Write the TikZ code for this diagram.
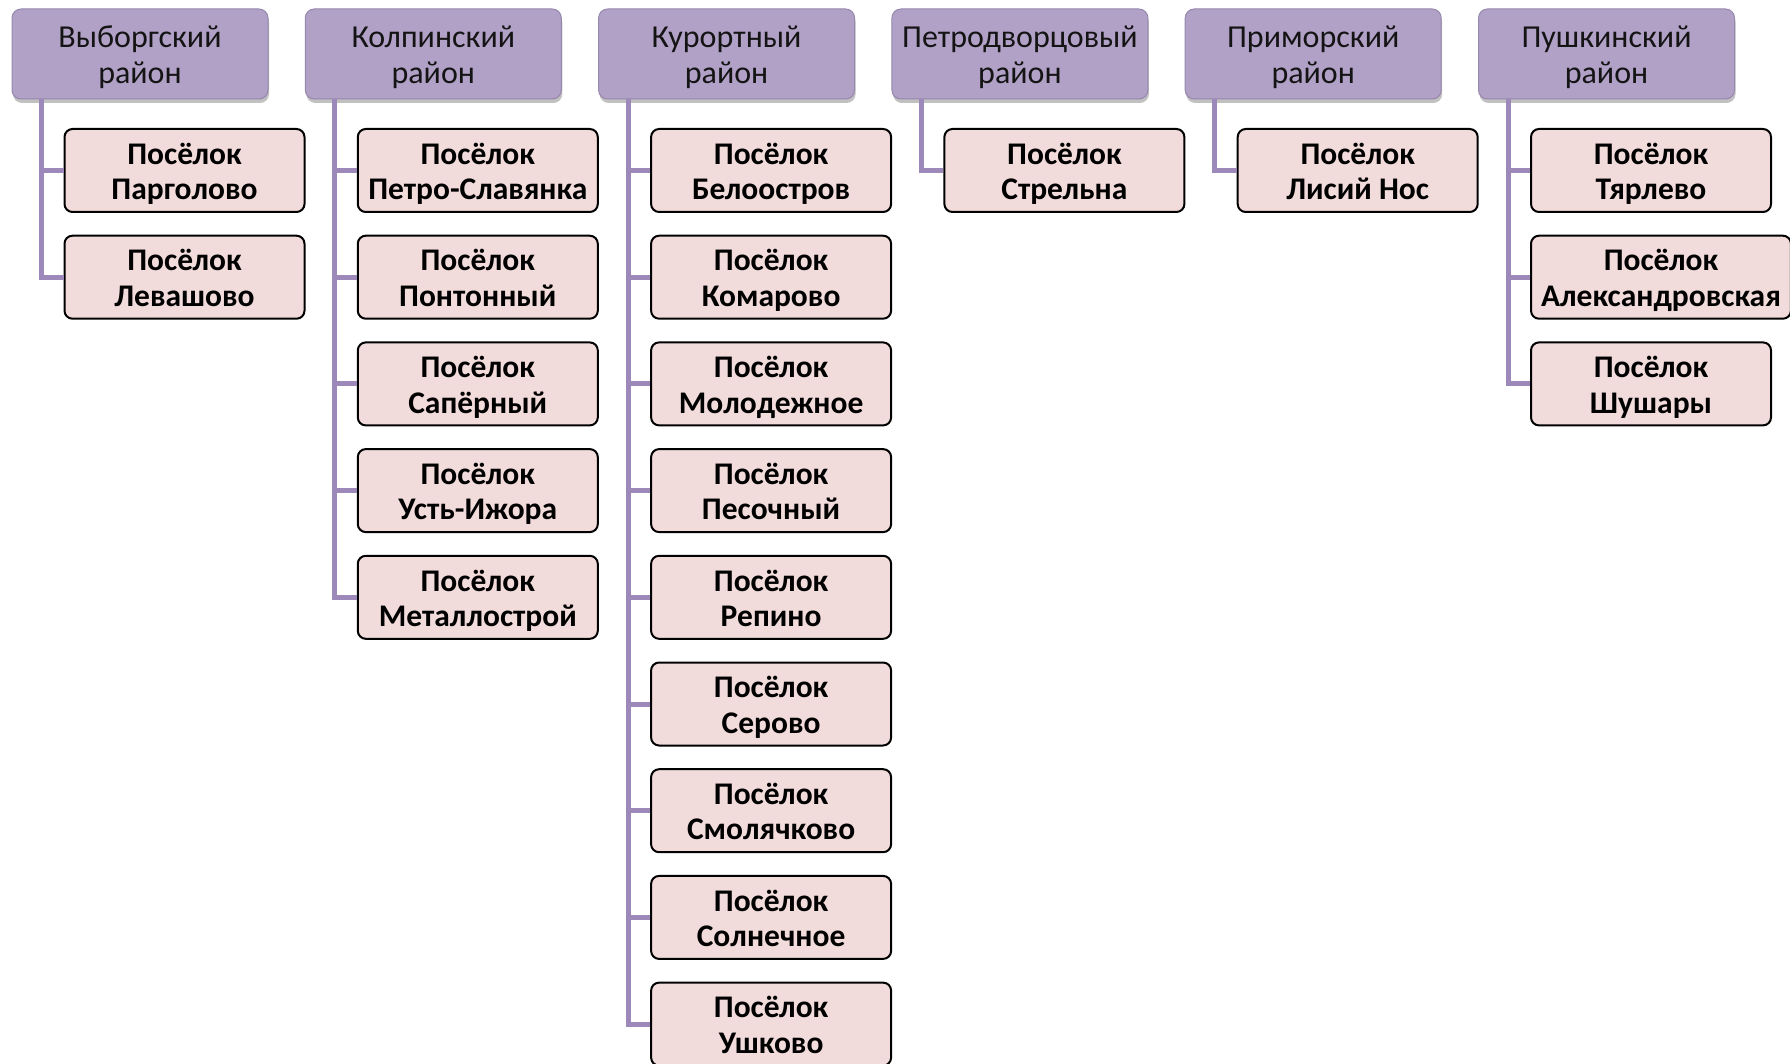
\documentclass[tikz,border=0pt]{standalone}
\usepackage{fontspec}
\setmainfont{Carlito}
\usetikzlibrary{positioning,shadows}

\definecolor{distfill}{RGB}{178,161,199}
\definecolor{distdraw}{RGB}{150,135,172}
\definecolor{branchcol}{RGB}{157,136,186}
\definecolor{villfill}{RGB}{242,220,219}

% two-line settlement label
\newcommand{\settl}[1]{\rule{0pt}{30pt}Посёлок\\#1\rule[-7pt]{0pt}{7pt}}

\begin{document}
\begin{tikzpicture}[
    x=1pt, y=1pt,
    district/.style={rectangle, rounded corners=9pt, draw=distdraw, fill=distfill, line width=1pt, minimum width=256pt, minimum height=90pt, align=center, text=black!92, font=\fontsize{32}{36}\selectfont, drop shadow={shadow xshift=1pt, shadow yshift=-4pt, opacity=0.35, fill=black!70}},
    village/.style={rectangle, rounded corners=8pt, draw=black, fill=villfill, line width=2pt, minimum width=240pt, minimum height=83pt, inner xsep=10pt, inner ysep=2pt, align=center, font=\fontsize{31.5}{35.5}\selectfont\bfseries},
    branch/.style={draw=branchcol, line width=5pt}
]
\useasboundingbox (0,0) rectangle (1790,-1064);

% DISTRICTS
\node[district] (vyb) at (140,-54) {\rule{0pt}{28pt}Выборгский\\район};
\node[district, right=36.3pt of vyb] (kol) {\rule{0pt}{28pt}Колпинский\\район};
\node[district, right=36.3pt of kol] (kur) {\rule{0pt}{28pt}Курортный\\район};
\node[district, right=36.3pt of kur] (pet) {\rule{0pt}{28pt}Петродворцовый\\район};
\node[district, right=36.3pt of pet] (pri) {\rule{0pt}{28pt}Приморский\\район};
\node[district, right=36.3pt of pri] (pus) {\rule{0pt}{28pt}Пушкинский\\район};

% SETTLEMENTS
\node[village, below right=28.5pt and 52pt of vyb.south west] (par) {\settl{Парголово}};
\node[village, below right=21.7pt and 0pt of par.south west] (lev) {\settl{Левашово}};

\node[village, below right=28.5pt and 52pt of kol.south west] (psl) {\settl{Петро-Славянка}};
\node[village, below right=21.7pt and 0pt of psl.south west] (pon) {\settl{Понтонный}};
\node[village, below right=21.7pt and 0pt of pon.south west] (sap) {\settl{Сапёрный}};
\node[village, below right=21.7pt and 0pt of sap.south west] (ust) {\settl{Усть-Ижора}};
\node[village, below right=21.7pt and 0pt of ust.south west] (met) {\settl{Металлострой}};

\node[village, below right=28.5pt and 52pt of kur.south west] (bel) {\settl{Белоостров}};
\node[village, below right=21.7pt and 0pt of bel.south west] (kom) {\settl{Комарово}};
\node[village, below right=21.7pt and 0pt of kom.south west] (mol) {\settl{Молодежное}};
\node[village, below right=21.7pt and 0pt of mol.south west] (pes) {\settl{Песочный}};
\node[village, below right=21.7pt and 0pt of pes.south west] (rep) {\settl{Репино}};
\node[village, below right=21.7pt and 0pt of rep.south west] (ser) {\settl{Серово}};
\node[village, below right=21.7pt and 0pt of ser.south west] (smo) {\settl{Смолячково}};
\node[village, below right=21.7pt and 0pt of smo.south west] (sol) {\settl{Солнечное}};
\node[village, below right=21.7pt and 0pt of sol.south west] (ush) {\settl{Ушково}};

\node[village, below right=28.5pt and 52pt of pet.south west] (str) {\settl{Стрельна}};

\node[village, below right=28.5pt and 52pt of pri.south west] (lis) {\settl{Лисий Нос}};

\node[village, below right=28.5pt and 52pt of pus.south west] (tya) {\settl{Тярлево}};
\node[village, below right=21.7pt and 0pt of tya.south west] (ale) {\settl{Александровская}};
\node[village, below right=21.7pt and 0pt of ale.south west] (shu) {\settl{Шушары}};

% CONNECTORS
\draw[branch] ([xshift=30pt]vyb.south west) |- (par.west);
\draw[branch] ([xshift=30pt]vyb.south west) |- (lev.west);

\draw[branch] ([xshift=30pt]kol.south west) |- (psl.west);
\draw[branch] ([xshift=30pt]kol.south west) |- (pon.west);
\draw[branch] ([xshift=30pt]kol.south west) |- (sap.west);
\draw[branch] ([xshift=30pt]kol.south west) |- (ust.west);
\draw[branch] ([xshift=30pt]kol.south west) |- (met.west);

\draw[branch] ([xshift=30pt]kur.south west) |- (bel.west);
\draw[branch] ([xshift=30pt]kur.south west) |- (kom.west);
\draw[branch] ([xshift=30pt]kur.south west) |- (mol.west);
\draw[branch] ([xshift=30pt]kur.south west) |- (pes.west);
\draw[branch] ([xshift=30pt]kur.south west) |- (rep.west);
\draw[branch] ([xshift=30pt]kur.south west) |- (ser.west);
\draw[branch] ([xshift=30pt]kur.south west) |- (smo.west);
\draw[branch] ([xshift=30pt]kur.south west) |- (sol.west);
\draw[branch] ([xshift=30pt]kur.south west) |- (ush.west);

\draw[branch] ([xshift=30pt]pet.south west) |- (str.west);

\draw[branch] ([xshift=30pt]pri.south west) |- (lis.west);

\draw[branch] ([xshift=30pt]pus.south west) |- (tya.west);
\draw[branch] ([xshift=30pt]pus.south west) |- (ale.west);
\draw[branch] ([xshift=30pt]pus.south west) |- (shu.west);

\end{tikzpicture}
\end{document}
